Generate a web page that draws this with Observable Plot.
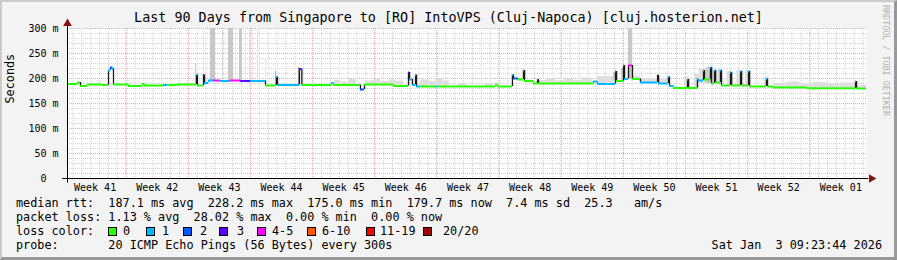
<!DOCTYPE html>
<html><head><meta charset="utf-8">
<script src="https://cdn.jsdelivr.net/npm/d3@7"></script>
<script src="https://cdn.jsdelivr.net/npm/@observablehq/plot@0.6"></script>
<style>
body{margin:0;background:#fff;}
#wrap{position:relative;width:897px;height:260px;background:#f3f3f3;overflow:hidden;font-family:"DejaVu Sans Mono",monospace;color:#000;}
#frame{position:absolute;left:0;top:0;width:897px;height:260px;box-sizing:border-box;border-top:2px solid #cbcbcb;border-left:2px solid #cbcbcb;border-right:3px solid #999;border-bottom:3px solid #999;pointer-events:none;}
#chart{position:absolute;left:0;top:0;}
.t{position:absolute;white-space:pre;font-size:11.8px;line-height:14px;}
.box{position:absolute;width:7px;height:7px;border:1px solid #000;}
#title{position:absolute;left:0;width:897px;top:10px;text-align:center;font-size:13.4px;white-space:pre;}
#wm{position:absolute;left:881px;top:5px;writing-mode:vertical-rl;font-size:8.4px;color:#b4b4b4;white-space:pre;}
</style></head>
<body>
<div id="wrap">
  <div id="chart"></div>
  <div id="title"></div>
  <div id="wm">RRDTOOL / TOBI OETIKER</div>
  <div id="legend"></div>
  <div id="frame"></div>
</div>
<script>
// ---- data ----
const title = "Last 90 Days from Singapore to [RO] IntoVPS (Cluj-Napoca) [cluj.hosterion.net]";
const startTime = Date.UTC(2025, 9, 5, 9, 23, 44);
const endTime = Date.UTC(2026, 0, 3, 9, 23, 44);
const yTicks = [0, 50, 100, 150, 200, 250, 300];

// median rtt (ms), step starts in days since start, loss bucket index
const medDay = [0, 1.13, 1.46, 2.25, 3.94, 4.62, 4.84, 5.07, 5.18, 6.87, 8.45, 8.67, 10.81, 11.3, 12.39, 14.53, 14.64, 15.32, 15.44, 15.88, 16.45, 17.23, 18.36, 19.49, 20.61, 22.30, 23.54, 23.66, 26.13, 26.40, 29.74, 29.96, 33.00, 33.45, 36.72, 38.41, 38.53, 38.86, 39.20, 39.32, 39.76, 41.45, 41.68, 48.21, 48.43, 50.12, 50.24, 50.80, 51.36, 51.48, 52.49, 52.94, 53.05, 59.25, 59.70, 61.73, 61.85, 62.63, 62.75, 63.19, 63.64, 64.54, 66.46, 66.58, 67.69, 67.81, 68.26, 69.84, 69.96, 70.96, 71.08, 71.64, 71.76, 72.43, 72.55, 72.88, 73.00, 73.55, 73.67, 74.68, 74.80, 75.81, 75.93, 76.71, 76.83, 78.73, 78.85, 79.52, 83.35, 88.76, 88.88, 90];
const medRtt = [189, 192, 185, 188, 187, 216, 222, 219, 188, 185, 189, 186, 187, 187, 188, 207, 186, 207, 191, 196, 196, 195, 196, 195, 195, 186, 203, 187, 219, 187, 191, 187, 178, 188, 185, 212, 198, 187, 207, 184, 184, 184, 184, 188, 184, 207, 200, 198, 216, 195, 190, 198, 190, 194, 189, 214, 195, 226, 199, 226, 199, 192, 206, 190, 203, 185, 181, 198, 181, 199, 196, 216, 198, 222, 190, 216, 192, 216, 186, 212, 186, 214, 186, 214, 184, 199, 184, 182, 180.5, 194, 180];
const medLoss = [0, 0, 0, 0, 0, 1, 2, 1, 0, 0, 0, 0, 1, 0, 0, 1, 0, 3, 1, 1, 4, 1, 4, 3, 1, 0, 1, 1, 3, 0, 1, 0, 2, 0, 0, 3, 1, 1, 1, 1, 0, 1, 0, 0, 0, 1, 2, 0, 1, 0, 0, 1, 0, 1, 1, 4, 0, 5, 1, 4, 0, 1, 3, 1, 1, 1, 0, 1, 0, 1, 1, 1, 0, 1, 0, 1, 0, 1, 0, 1, 0, 1, 0, 1, 0, 1, 0, 0, 0, 1, 0];

// smoke (spread of the 20 pings): start/end days, low/high ms, density 0..2
const smokeStart = [14.42, 15.32, 16.11, 17.46, 18.14, 18.92, 19.37, 20.05, 20.50, 20.84, 21.40, 22.30, 23.45, 26.02, 30.0, 30.8, 31.7, 33.6, 34.5, 35.3, 36.2, 37.0, 39.8, 40.7, 41.5, 42.3, 44.0, 47.0, 53.1, 54.0, 55.0, 56.0, 57.0, 58.0, 59.7, 61.5, 62.4, 63.19, 63.64, 64.5, 66.7, 69.5, 70.6, 71.2, 72.0, 72.7, 73.3, 74.3, 75.4, 76.4, 78.5, 79.5, 81.0, 82.5, 84.0, 85.5, 87.0, 89.0];
const smokeEnd = [14.53, 15.40, 16.67, 17.57, 18.70, 19.00, 19.71, 20.13, 20.58, 20.92, 21.51, 22.38, 23.54, 26.13, 30.8, 31.7, 32.5, 34.5, 35.3, 36.2, 37.0, 37.9, 40.7, 41.5, 42.3, 43.0, 45.0, 48.0, 54.0, 55.0, 56.0, 57.0, 58.0, 59.2, 61.7, 61.73, 62.63, 63.64, 64.5, 66.4, 67.7, 70.1, 71.2, 72.0, 72.7, 73.3, 73.8, 75.0, 76.1, 77.0, 79.0, 81.0, 82.5, 84.0, 85.5, 87.0, 88.7, 90.0];
const smokeLo = [186, 196, 196, 196, 196, 196, 196, 196, 196, 196, 196, 186, 187, 187, 187, 187, 187, 188, 188, 188, 185, 185, 184, 184, 184, 184, 184, 184, 190, 190, 190, 190, 190, 190, 189, 195, 195, 199, 199, 192, 190, 181, 181, 190, 190, 190, 186, 186, 186, 184, 184, 182, 182, 181, 181, 181, 181, 180];
const smokeHi = [230, 300, 300, 300, 300, 300, 300, 300, 300, 300, 300, 240, 215, 222, 196, 193, 198, 195, 199, 194, 197, 194, 197, 194, 199, 195, 190, 190, 196, 199, 195, 200, 196, 201, 204, 212, 220, 300, 205, 200, 199, 203, 208, 218, 222, 216, 218, 214, 216, 216, 203, 190, 193, 189, 192, 189, 191, 186];
const smokeDensity = [1, 0, 1, 0, 1, 0, 1, 0, 0, 0, 0, 0, 2, 2, 0, 0, 0, 0, 0, 0, 0, 0, 0, 0, 0, 0, 0, 0, 0, 0, 0, 0, 0, 0, 0, 1, 1, 1, 0, 0, 0, 0, 0, 0, 1, 0, 0, 0, 0, 0, 0, 0, 0, 0, 0, 0, 0, 0];

const lossLabels = ["0", "1", "2", "3", "4-5", "6-10", "11-19", "20/20"];
const lossColors = ["#26ff00", "#00b8ff", "#0059ff", "#5e00ff", "#ff00ff", "#ff5500", "#ff0000", "#a10000"];
const smokeColors = ["#dedede", "#c8c8c8", "#a0a0a0"];

const statsLine1 = "median rtt:  187.1 ms avg  228.2 ms max  175.0 ms min  179.7 ms now  7.4 ms sd  25.3   am/s";
const statsLine2 = "packet loss: 1.13 % avg  28.02 % max  0.00 % min  0.00 % now";
const lossTitle = "loss color:";
const probeLine = "probe:       20 ICMP Echo Pings (56 Bytes) every 300s";
const dateLine = "Sat Jan  3 09:23:44 2026";

// ---- build ----
const DAY = 86400000;
const toDate = d => new Date(startTime + d * DAY);
const start = new Date(startTime), end = new Date(endTime);
const segs = d3.range(medRtt.length);
const smokes = d3.range(smokeStart.length);
const days = d3.utcDay.range(start, end);
const sundays = d3.utcSunday.range(start, end);
const weekMids = d3.utcSunday.range(d3.utcSunday.offset(start, -1), end).map(d => new Date(+d + 3.5 * DAY)).filter(d => d > start && d < end);

const plot = Plot.plot({
  width: 897, height: 195,
  marginLeft: 67, marginRight: 31, marginTop: 28, marginBottom: 17,
  style: {background: "transparent", fontFamily: "DejaVu Sans Mono, monospace", fontSize: "10px", color: "#000"},
  x: {type: "utc", domain: [start, end]},
  y: {domain: [0, 300]},
  marks: [
    Plot.frame({fill: "white", stroke: null}),
    Plot.ruleY(d3.range(0, 301, 10), {stroke: "#d2d2d2", strokeDasharray: "1,1"}),
    Plot.ruleX(days, {stroke: "#d2d2d2", strokeDasharray: "1,1"}),
    Plot.ruleY(d3.range(0, 301, 50), {stroke: "#f0a4a4", strokeDasharray: "1,1"}),
    Plot.ruleX(sundays, {stroke: "#f0a4a4", strokeDasharray: "1,1"}),
    Plot.rect(smokes, {x1: i => toDate(smokeStart[i]), x2: i => toDate(smokeEnd[i]), y1: i => smokeLo[i], y2: i => smokeHi[i], fill: i => smokeColors[smokeDensity[i]]}),
    Plot.ruleX(segs.slice(1), {x: i => toDate(medDay[i]), y1: i => medRtt[i - 1], y2: i => medRtt[i],
      stroke: i => Math.abs(medRtt[i] - medRtt[i - 1]) > 6 ? "#1a1a1a" : lossColors[medLoss[i]], strokeWidth: 1.3}),
    Plot.ruleY(segs, {y: i => medRtt[i], x1: i => toDate(medDay[i]), x2: i => toDate(medDay[i + 1]), stroke: i => lossColors[medLoss[i]], strokeWidth: 2}),
    Plot.ruleY([0], {x1: () => new Date(startTime - 0.55 * DAY), x2: () => new Date(endTime + 0.25 * DAY), stroke: "#000"}),
    Plot.ruleX([start], {y1: -9, y2: 306, stroke: "#000"}),
    Plot.dot([0], {x: () => end, y: 0, dx: 5, symbol: "triangle", rotate: 90, r: 3.2, fill: "#8b1010", stroke: null}),
    Plot.dot([0], {x: () => start, y: 300, dy: -5, symbol: "triangle", r: 3.2, fill: "#8b1010", stroke: null}),
    Plot.axisY(yTicks, {tickSize: 0, tickPadding: 9, label: null, tickFormat: d => d === 0 ? "0\u00a0\u00a0" : d + " m", fontSize: 10}),
    Plot.axisX(weekMids, {tickSize: 0, tickPadding: 5, label: null, tickFormat: d3.utcFormat("Week %V"), fontSize: 10}),
    Plot.text(["Seconds"], {frameAnchor: "left", rotate: -90, dx: -57, fontSize: 11.8})
  ]
});
document.getElementById("chart").appendChild(plot);
document.getElementById("title").textContent = title;

const legend = document.getElementById("legend");
function addText(txt, x, top) {
  const el = document.createElement("div");
  el.className = "t"; el.textContent = txt;
  el.style.left = x + "px"; el.style.top = top + "px";
  legend.appendChild(el);
  return el;
}
addText(statsLine1, 16, 196);
addText(statsLine2, 16, 210);
addText(lossTitle, 16, 224);
const boxX = [108, 146, 183, 219, 257, 307, 366, 423];
const labX = [123, 162, 200, 237, 272, 322, 380, 443];
lossLabels.forEach((lab, i) => {
  const b = document.createElement("div");
  b.className = "box"; b.style.left = boxX[i] + "px"; b.style.top = "227px";
  b.style.background = lossColors[i];
  legend.appendChild(b);
  addText(lab, labX[i], 224);
});
addText(probeLine, 16, 238);
const dl = addText(dateLine, 0, 238);
dl.style.left = ""; dl.style.right = "15px";
</script>
</body></html>
